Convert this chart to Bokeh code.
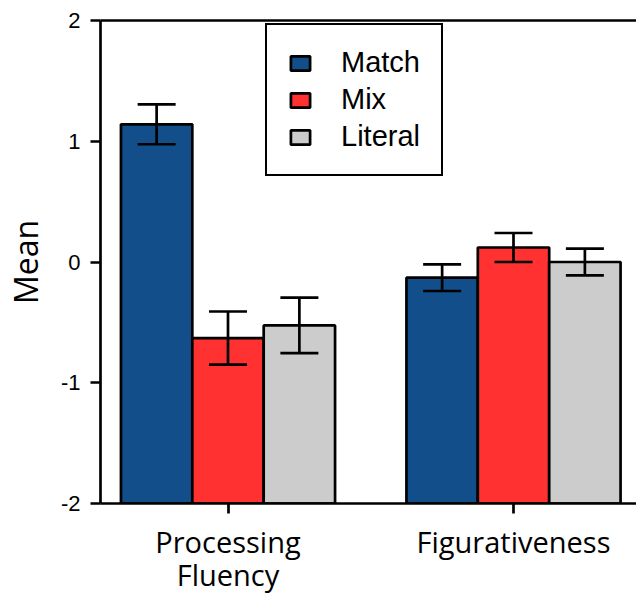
from bokeh.plotting import figure
from bokeh.models import (ColumnDataSource, Range1d, FixedTicker, Whisker, TeeHead,
                          LinearAxis, Legend, LegendItem)
from bokeh.transform import dodge
from bokeh.embed import file_html
from bokeh.resources import INLINE

categories = ["Processing\nFluency", "Figurativeness"]
series = ["Match", "Mix", "Literal"]
colors = ["#124E8A", "#FF3131", "#CCCCCC"]
match_mean = [1.14, -0.13]
match_err = [0.165, 0.11]
mix_mean = [-0.63, 0.12]
mix_err = [0.22, 0.12]
literal_mean = [-0.525, 0.0]
literal_err = [0.23, 0.11]
y_ticks = [-2, -1, 0, 1, 2]
y_tick_labels = ["-2", "-1", "0", "1", "2"]

means = [match_mean, mix_mean, literal_mean]
errs = [match_err, mix_err, literal_err]
offsets = [-0.25, 0.0, 0.25]

xs = list(range(len(categories)))

p = figure(width=636, height=597, output_backend="svg", toolbar_location=None,
           x_range=Range1d(-0.4466, 1.4308), y_range=Range1d(-2, 2),
           min_border_left=100, min_border_right=0, min_border_top=20, min_border_bottom=93)
p.outline_line_color = None
p.grid.visible = False
p.background_fill_color = "white"
p.border_fill_color = "white"

items = []
for name, col, m, e, off in zip(series, colors, means, errs, offsets):
    src = ColumnDataSource(dict(x=xs, top=m,
                                upper=[a + b for a, b in zip(m, e)],
                                lower=[a - b for a, b in zip(m, e)]))
    r = p.vbar(x=dodge("x", off), top="top", bottom=-2, width=0.25, source=src,
               fill_color=col, line_color="black", line_width=2.7)
    items.append(LegendItem(label=name, renderers=[r]))
    w = Whisker(base=dodge("x", off), upper="upper", lower="lower", source=src,
                level="overlay", line_color="black", line_width=2.7,
                upper_head=TeeHead(size=38, line_width=2.7, line_color="black"),
                lower_head=TeeHead(size=38, line_width=2.7, line_color="black"))
    p.add_layout(w)

legend = Legend(items=items, location=(165, 327), orientation="vertical")
legend.label_text_font = "Liberation Sans"
legend.label_text_font_size = "29px"
legend.label_text_color = "black"
legend.glyph_width = 24
legend.glyph_height = 18
legend.label_height = 30
legend.label_standoff = 29
legend.spacing = 4
legend.padding = 21
legend.margin = 0
legend.border_line_color = "black"
legend.border_line_alpha = 1
legend.border_line_width = 2.5
legend.background_fill_color = "white"
legend.background_fill_alpha = 1
p.add_layout(legend, "center")

# Axes
yax = p.yaxis[0]
yax.ticker = FixedTicker(ticks=y_ticks)
yax.major_label_overrides = {t: l for t, l in zip(y_ticks, y_tick_labels)}
yax.axis_label = "Mean"
yax.axis_label_text_font = "Open Sans"
yax.axis_label_text_font_style = "normal"
yax.axis_label_text_font_size = "32px"
yax.axis_label_standoff = 11
yax.major_label_text_font = "Liberation Sans"
yax.major_label_text_font_size = "22px"
yax.major_label_standoff = 10
yax.major_tick_out = 10
yax.major_tick_in = 0
yax.minor_tick_line_color = None
yax.axis_line_width = 2.7
yax.major_tick_line_width = 2.7

xax = p.xaxis[0]
xax.ticker = FixedTicker(ticks=xs)
xax.major_label_overrides = {i: c for i, c in zip(xs, categories)}
xax.major_label_text_font = "Open Sans"
xax.major_label_text_font_size = "29px"
xax.major_label_text_line_height = 0.86
xax.major_label_standoff = 8
xax.major_tick_out = 10
xax.major_tick_in = 0
xax.minor_tick_line_color = None
xax.axis_line_width = 2.7
xax.major_tick_line_width = 2.7

for ax in (xax, yax):
    ax.axis_line_color = "black"
    ax.major_tick_line_color = "black"
    ax.major_label_text_color = "black"
    ax.axis_label_text_color = "black"

# top border line
top_axis = LinearAxis(ticker=FixedTicker(ticks=[]), major_label_text_font_size="0px",
                      major_tick_line_color=None, minor_tick_line_color=None,
                      axis_line_color="black", axis_line_width=2.7)
p.add_layout(top_axis, "above")

open("out.html", "w").write(file_html(p, INLINE))
